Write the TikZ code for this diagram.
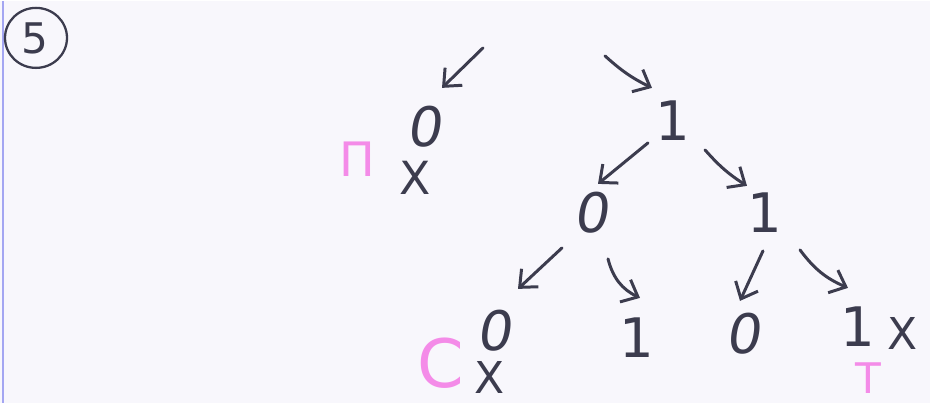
\documentclass[tikz,border=0pt]{standalone}
\usepackage{fontspec}
\setmainfont{DejaVu Sans}
\usepackage{tikz}
\usetikzlibrary{arrows.meta,positioning,calc,shapes.geometric}
\definecolor{ink}{HTML}{3C3C4E}
\definecolor{pinkpen}{HTML}{F48BE8}
\definecolor{paper}{HTML}{F8F7FC}
\definecolor{margin}{HTML}{A4A6F2}

\begin{document}
\begin{tikzpicture}[
  x=0.02cm, y=-0.02cm,
  dig/.style={text=ink,inner sep=0pt,font=\fontsize{31}{31}\selectfont},
  zero/.style={dig,xslant=0.15},
  cross/.style={text=ink,inner sep=0pt,font=\fontsize{25}{25}\selectfont},
  pinkmark/.style={text=pinkpen,inner sep=0pt},
  arw/.style={draw=ink,line width=1.7pt,line cap=round,-{Straight Barb[length=8pt,width=14pt,line width=1.7pt]}}]
  % sheet and margin line
  \fill[paper] (0,0) rectangle (930,402);
  \draw[margin,line width=1pt] (3,0) -- (3,402);
  % task number
  \node[dig,font=\fontsize{24}{24}\selectfont] (num5) at (35,38) {5};
  \draw[ink,line width=1.3pt] (36,37) ellipse [x radius=0.62cm, y radius=0.6cm];
  % tree
  \coordinate (root) at (545,45);
  \node[zero] (n0) at (427,126) {0};
  \node[dig] (n1) at (673,120) {1};
  \node[zero] (n10) at (594,212) {0};
  \node[dig] (n11) at (765,212) {1};
  \node[zero] (n100) at (497,330) {0};
  \node[dig] (n101) at (637,337) {1};
  \node[zero] (n110) at (746,333) {0};
  \node[dig] (n111) at (858,326) {1};
  % crossed out
  \node[cross,font=\fontsize{26}{26}\selectfont] (x0) at (415,177) {X};
  \node[cross] (x100) at (490,377) {X};
  \node[cross] (x111) at (903,333) {X};
  % pink letters
  \node[pinkmark,font=\fontsize{27}{27}\selectfont] (lP) at (357,158) {П};
  \node[pinkmark,font=\fontsize{38}{38}\selectfont] (lS) at (441,362) {С};
  \node[pinkmark,font=\fontsize{24}{24}\selectfont] (lT) at (868,377) {Т};
  % arrows
  \draw[arw] ($(root)+(-62,2)$) -- ($(n0)+(15,-39)$);
  \draw[arw] ($(root)+(60,10)$) to[bend right=8] ($(n1)+(-21,-33)$);
  \draw[arw] ($(n1)+(-25,22)$) -- ($(n10)+(4,-29)$);
  \draw[arw] ($(n1)+(32,29)$) to[bend right=8] ($(n11)+(-18,-27)$);
  \draw[arw] ($(n10)+(-32,35)$) -- ($(n100)+(21,-42)$);
  \draw[arw] ($(n10)+(14,46)$) to[bend right=25] ($(n101)+(3,-40)$);
  \draw[arw] ($(n11)+(-2,38)$) -- ($(n110)+(-6,-33)$);
  \draw[arw] ($(n11)+(35,37)$) to[bend right=15] ($(n111)+(-10,-39)$);
\end{tikzpicture}
\end{document}
